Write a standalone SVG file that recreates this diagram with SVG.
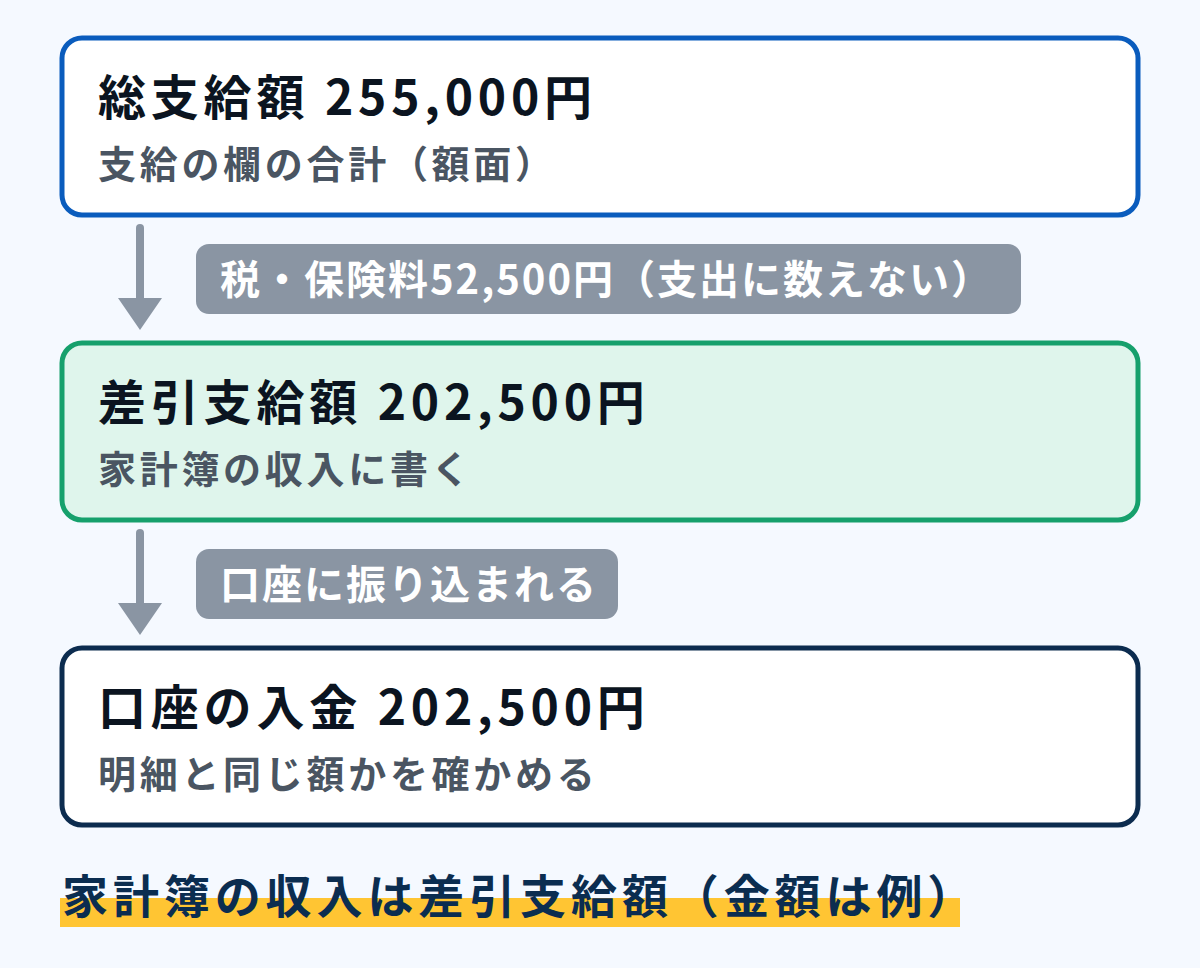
<svg xmlns="http://www.w3.org/2000/svg" width="1200" height="968" viewBox="0 0 1200 968">
<style>
text{font-family:"Noto Sans CJK JP","Noto Sans",sans-serif;font-weight:700}
.box{stroke-width:5}
.t{font-size:48px;fill:#0b1420;letter-spacing:4.8px}
.s{font-size:38px;fill:#4a5562;letter-spacing:3.7px;font-weight:600}
.lb{fill:#8a95a3}
.lt{font-size:40px;fill:#ffffff;letter-spacing:2px}
.ar{stroke:#8a95a3;stroke-width:8;stroke-linecap:round;fill:none}
.ah{fill:#8a95a3}
</style>
<rect width="1200" height="968" fill="#f5f9ff"/>
<g id="connectors">
<line class="ar" x1="140" y1="228" x2="140" y2="300"/>
<polygon class="ah" points="118,298 162,298 140,330"/>
<line class="ar" x1="140" y1="533" x2="140" y2="605"/>
<polygon class="ah" points="118,603 162,603 140,635"/>
</g>
<g id="node1">
<rect class="box" x="62" y="38" width="1076" height="177" rx="20" fill="#ffffff" stroke="#0a5cbd"/>
<text class="t" x="98" y="115">総支給額 255,000円</text>
<text class="s" x="98" y="178">支給の欄の合計（額面）</text>
</g>
<g id="label1">
<rect class="lb" x="196" y="244" width="825" height="70" rx="13"/>
<text class="lt" x="220" y="294" letter-spacing="4.6">税・保険料52,500円（支出に数えない）</text>
</g>
<g id="node2">
<rect class="box" x="62" y="343" width="1076" height="177" rx="20" fill="#dff5ec" stroke="#16a06c"/>
<text class="t" x="98" y="420">差引支給額 202,500円</text>
<text class="s" x="98" y="483">家計簿の収入に書く</text>
</g>
<g id="label2">
<rect class="lb" x="196" y="549" width="422" height="70" rx="13"/>
<text class="lt" x="220" y="599">口座に振り込まれる</text>
</g>
<g id="node3">
<rect class="box" x="62" y="648" width="1076" height="177" rx="20" fill="#ffffff" stroke="#0c2c4f"/>
<text class="t" x="98" y="725">口座の入金 202,500円</text>
<text class="s" x="98" y="788">明細と同じ額かを確かめる</text>
</g>
<g id="caption">
<rect x="60" y="898" width="900" height="29" fill="#ffc533"/>
<text x="62" y="913" font-size="46" fill="#0b2d50" letter-spacing="4.9">家計簿の収入は差引支給額（金額は例）</text>
</g>
</svg>
